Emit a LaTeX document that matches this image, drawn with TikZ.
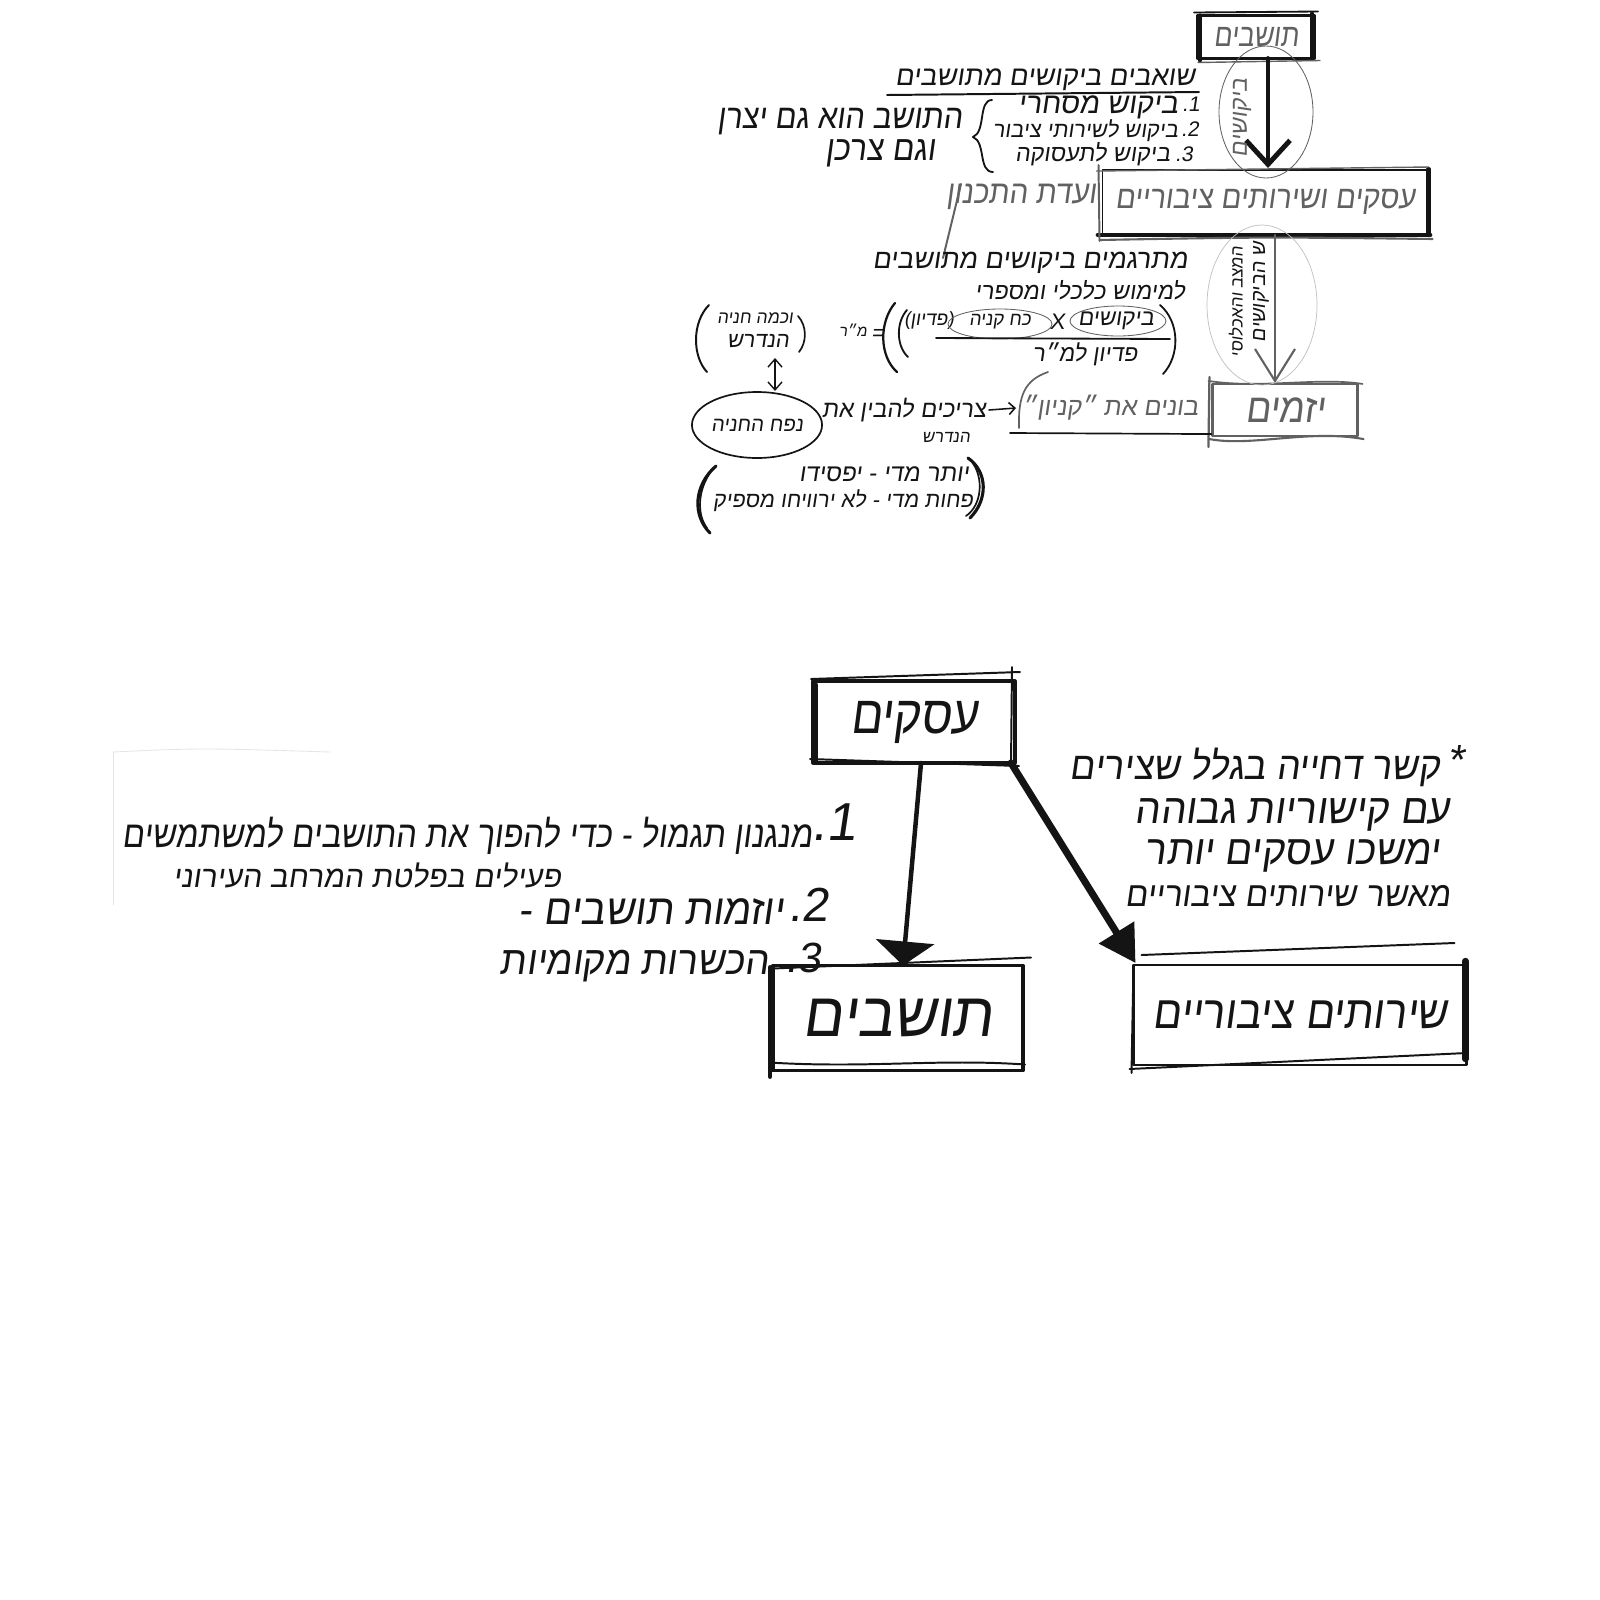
\documentclass[tikz,border=0pt]{standalone}
\usepackage{fontspec}
\usepackage{graphicx}
\usetikzlibrary{arrows.meta,shapes.geometric,calc}
\TeXXeTstate=1
\newfontfamily\heb[Script=Hebrew,FakeSlant=0.15]{Liberation Sans}
\newfontfamily\lat[FakeSlant=0.15]{Liberation Sans}
\newdimen\pxu \pxu=0.025cm
\newcommand{\hw}[3][1]{\resizebox{#2\pxu}{!}{\scalebox{1}[#1]{\heb #3}}}
\definecolor{pen}{gray}{0.08}
\definecolor{pg}{gray}{0.38}
\begin{document}
\begin{tikzpicture}[x=0.025cm,y=-0.025cm,
  hb/.style={inner sep=0pt,outer sep=0pt},
  boxs/.style={draw=pen,rectangle,inner sep=0pt,outer sep=0pt},
  line cap=round,line join=round]
\fill[white] (0,0) rectangle (1600,1600);
\useasboundingbox (0,0) rectangle (1600,1600);

% ---------------- top section ----------------
\node[boxs,line width=2.2pt,minimum width=116\pxu,minimum height=43\pxu,text=pg] (tA) at (1256,37) {\hw[1.2]{85}{\beginR תושבים\endR}};
\draw[pen,line width=1.3pt] ($(tA.north west)+(-4,-3)$) -- ($(tA.north east)+(4,-4)$);
\draw[pen,line width=3pt] ($(tA.north west)+(2,0)$) -- ($(tA.south west)+(2,2)$);
\draw[pen,line width=3pt] ($(tA.north east)+(-2,-2)$) -- ($(tA.south east)+(-2,0)$);
\draw[pg,line width=1pt] ($(tA.south west)+(0,4)$) -- ($(tA.south east)+(6,2)$);

\node[draw=pen,line width=1.4pt,inner sep=0pt,minimum width=325\pxu,minimum height=64\pxu,text=pg] (tB) at (1265,202) {\hw[1.1]{300}{\beginR עסקים ושירותים ציבוריים\endR}};
\draw[pen,line width=2.6pt] ($(tB.south west)+(-4,0)$) -- ($(tB.south east)+(2,0)$);
\draw[pen,line width=3pt] (tB.north east) -- (tB.south east);
\draw[pg,line width=1.4pt] ($(tB.north west)+(-3,-4)$) -- ($(tB.south west)+(-2,6)$);
\draw[pg,line width=1.5pt] ($(tB.south west)+(-2,5)$) .. controls ($(tB.south)+(0,2)$) .. ($(tB.south east)+(4,4)$);
\draw[pg,line width=1pt] ($(tB.north west)+(-5,2)$) -- ($(tB.north east)+(0,-2)$);

\node[draw=pg,line width=1.5pt,inner sep=0pt,minimum width=145\pxu,minimum height=52\pxu,text=pg] (tC) at (1285,410) {\hw[1.1]{80}{\beginR יזמים\endR}};
\draw[pg,line width=1.5pt] ($(tC.south west)+(-2,2)$) .. controls ($(tC.south west)+(40,10)$) and ($(tC.south east)+(-50,-8)$) .. ($(tC.south east)+(5,2)$);
\draw[pg,line width=1.2pt] ($(tC.north west)+(-3,-2)$) .. controls ($(tC.north west)+(50,6)$) and ($(tC.north east)+(-40,-6)$) .. ($(tC.north east)+(4,1)$);
\draw[pg,line width=1.6pt] ($(tC.north west)+(-2,-6)$) -- ($(tC.south west)+(-3,10)$);

% arrows
\draw[pen,line width=3.5pt,-{Straight Barb[length=0.6cm,width=1.1cm]}] ($(tA.south)+(12,0)$) -- ($(tB.north)+(3,-1)$);
\draw[pg,line width=1.5pt,-{Straight Barb[length=0.8cm,width=1cm]}] ($(tB.south)+(10,0)$) -- ($(tC.north)+(-10,0)$);

\draw[pg,line width=0.6pt] (1266,112) ellipse [x radius=47, y radius=66];
\node[hb,rotate=90,text=pg] (r1) at (1242,118) {\hw{78}{\beginR ביקושים\endR}};

\draw[black!25,line width=0.5pt] (1262,305) ellipse [x radius=55, y radius=80];
\node[hb,rotate=90,text=pen] (r2) at (1261,292) {\hw{100}{\beginR ש הביקושים\endR}};
\node[hb,rotate=90,text=pen] (r3) at (1236,302) {\hw{110}{\beginR המצב והאכלוסי\endR}};

% heading and list
\node[hb,text=pen] (hdr) at (1045,80) {\hw{300}{\beginR שואבים ביקושים מתושבים\endR}};
\draw[pen,line width=1.4pt] (887,95) -- (1199,92);
\node[hb,anchor=east,text=pen] (l1) at (1178,107) {\hw{160}{\beginR ביקוש מסחרי\endR}};
\node[hb,anchor=east,text=pen] (l2) at (1178,131) {\hw{185}{\beginR ביקוש לשירותי ציבור\endR}};
\node[hb,anchor=east,text=pen] (l3) at (1170,154) {\hw{155}{\beginR ביקוש לתעסוקה\endR}};
\node[hb,text=pen] (n1) at (1191,104) {\fontsize{15}{15}\selectfont\lat .1};
\node[hb,text=pen] (n2) at (1190,129) {\fontsize{15}{15}\selectfont\lat .2};
\node[hb,text=pen] (n3) at (1184,154) {\fontsize{15}{15}\selectfont\lat .3};
\draw[pen,line width=1.3pt] (992,100) .. controls (978,100) and (986,132) .. (973,137) .. controls (986,142) and (978,172) .. (993,172);
\node[hb,anchor=east,text=pen] (c1) at (962,122) {\hw[1.1]{245}{\beginR התושב הוא גם יצרן\endR}};
\node[hb,anchor=east,text=pen] (c2) at (935,153) {\hw[1.1]{110}{\beginR וגם צרכן\endR}};

\node[hb,anchor=east,text=pg] (vd) at (1096,197) {\hw[1.1]{150}{\beginR ועדת התכנון\endR}};
\coordinate (g1) at (961,184);
\coordinate (g2) at (943,258);
\draw[pg,line width=1.4pt] (g1) -- (g2);

\node[hb,text=pen] (tg1) at (1030,263) {\hw{315}{\beginR מתרגמים ביקושים מתושבים\endR}};
\node[hb,anchor=east,text=pen] (tg2) at (1185,290) {\hw{210}{\beginR למימוש כלכלי ומספרי\endR}};

% formula
\draw[pen,line width=1.4pt] (709,305) .. controls (692,322) and (692,356) .. (707,372);
\node[hb,text=pen] (hn1) at (755,318) {\hw{76}{\beginR וכמה חניה\endR}};
\node[hb,text=pen] (hn2) at (758,341) {\hw{62}{\beginR הנדרש\endR}};
\draw[pen,line width=1.2pt] (798,316) .. controls (807,326) and (807,342) .. (799,352);
\node[hb,text=pen] (mr) at (853,330) {\hw{28}{\beginR מ״ר\endR}};
\node[hb,text=pen] (eq) at (878,335) {\fontsize{16}{16}\selectfont\lat =};
\draw[pen,line width=1.6pt] (895,303) .. controls (879,322) and (879,356) .. (897,372);
\draw[pen,line width=1.3pt] (907,310) .. controls (896,322) and (896,346) .. (908,357);
\node[hb,text=pen] (pd) at (929,321) {\resizebox{50\pxu}{!}{{\lat(}{\heb\beginR פדיון\endR}{\lat)}}};
\draw[pg,line width=0.6pt] (1000,324) ellipse [x radius=52, y radius=15];
\node[hb,text=pen] (kk) at (1000,322) {\hw{62}{\beginR כח קניה\endR}};
\node[hb,text=pen] (xx) at (1057,322) {\fontsize{16}{16}\selectfont\lat X};
\draw[pg,line width=0.6pt] (1118,321) ellipse [x radius=48, y radius=15];
\node[hb,text=pen] (bk) at (1116,321) {\hw{76}{\beginR ביקושים\endR}};
\draw[pen,line width=1.3pt] (1160,305) .. controls (1180,322) and (1180,356) .. (1163,374);
\draw[pen,line width=1.3pt] (936,338) -- (1170,339);
\node[hb,text=pen] (dn) at (1085,354) {\hw{105}{\beginR פדיון למ״ר\endR}};

% parking row
\coordinate (da) at (775,358);
\coordinate (db) at (775,391);
\draw[pen,line width=1pt,{Straight Barb[length=0.2cm,width=0.35cm]}-{Straight Barb[length=0.2cm,width=0.35cm]}] (da) -- (db);
\node[ellipse,draw=pen,line width=1.2pt,minimum width=122\pxu,minimum height=66\pxu,inner sep=0pt,text=pen] (nf) at (757,425) {\hw{92}{\beginR נפח החניה\endR}};
\node[hb,anchor=east,text=pen] (ts) at (986,410) {\hw{164}{\beginR צריכים להבין את\endR}};
\node[hb,text=pen] (ts2) at (946,437) {\hw{48}{\beginR הנדרש\endR}};
\node[hb,text=pg] (ky) at (1110,408) {\hw{176}{\beginR בונים את ״קניון״\endR}};
\draw[pen,line width=1.1pt,-{Straight Barb[length=0.15cm,width=0.3cm]}] ($(ts.east)+(3,0)$) -- ($(ky.west)+(-6,0)$);
\draw[pen,line width=1.2pt] (1010,433) -- ($(tC.south west)+(0,-3)$);
\draw[pg,line width=1.2pt] (1048,372) .. controls (1025,380) and (1018,395) .. (1019,428);

\node[hb,text=pen] (y1) at (884,474) {\hw{170}{\beginR יותר מדי - יפסידו\endR}};
\node[hb,text=pen] (y2) at (843,501) {\hw{260}{\beginR פחות מדי - לא ירוויחו מספיק\endR}};
\draw[pen,line width=2.2pt] (716,466) .. controls (694,485) and (692,515) .. (710,533);
\draw[pen,line width=1.2pt] (712,470) .. controls (697,490) and (697,515) .. (707,528);
\draw[pen,line width=2.2pt] (968,458) .. controls (988,472) and (988,500) .. (970,518);
\draw[pen,line width=1.2pt] (972,462) .. controls (984,478) and (982,505) .. (966,516);

% ---------------- bottom section ----------------
\node[boxs,line width=2.2pt,minimum width=202\pxu,minimum height=82\pxu,text=pen] (bA) at (914,722) {\hw[1.15]{128}{\beginR עסקים\endR}};
\draw[pen,line width=4.5pt] ($(bA.north west)+(2,4)$) -- ($(bA.south west)+(2,-2)$);
\draw[pen,line width=1.4pt] ($(bA.north west)+(-2,-2)$) -- ($(bA.north east)+(5,-9)$);
\draw[pen,line width=1.4pt] ($(bA.south west)+(-3,-4)$) -- ($(bA.south east)+(4,3)$);
\draw[pen,line width=1.4pt] ($(bA.north east)+(-3,-14)$) -- ($(bA.south east)+(-4,2)$);

\node[boxs,line width=2.2pt,minimum width=250\pxu,minimum height=105\pxu,text=pen] (bB) at (898,1018) {\hw[1.05]{190}{\beginR תושבים\endR}};
\draw[pen,line width=1.4pt] ($(bB.north west)+(0,3)$) -- ($(bB.north east)+(8,-8)$);
\draw[pen,line width=3.5pt] ($(bB.north west)+(-3,2)$) -- ($(bB.south west)+(-3,6)$);
\draw[pen,line width=1.4pt] ($(bB.south west)+(-4,-8)$) .. controls ($(bB.south)+(-30,-2)$) and ($(bB.south)+(40,-12)$) .. ($(bB.south east)+(2,-6)$);

\node[boxs,line width=2pt,minimum width=333\pxu,minimum height=100\pxu,text=pen] (bC) at (1300,1015) {\hw[1.1]{295}{\beginR שירותים ציבוריים\endR}};
\draw[pen,line width=4.5pt] ($(bC.north east)+(-1,-4)$) -- ($(bC.south east)+(-1,-6)$);
\draw[pen,line width=1.4pt] ($(bC.north west)+(8,-10)$) -- ($(bC.north east)+(-12,-22)$);
\draw[pen,line width=1.4pt] ($(bC.south west)+(-4,4)$) -- ($(bC.south east)+(0,-12)$);
\draw[pen,line width=1.4pt] ($(bC.south west)+(-2,8)$) -- (bC.north west);

\draw[pen,line width=3.2pt,-{Triangle[length=0.6cm,width=1.45cm]}] ($(bA.south)+(7,0)$) -- ($(bB.north)+(5,0)$);
\draw[pen,line width=5pt,-{Triangle[length=0.9cm,width=1cm]}] ($(bA.south east)+(-4,0)$) -- ($(bC.north west)+(2,-2)$);

% left texts
\draw[black!10,line width=0.6pt] (113,752) -- (113,905);
\draw[black!10,line width=0.6pt] (113,752) .. controls (200,748) .. (330,752);
\node[hb,text=pen] (m1) at (834,822) {\fontsize{38}{38}\selectfont\lat .1};
\node[hb,anchor=east,text=pen] (L1) at (812,836) {\hw[1.15]{690}{\beginR מנגנון תגמול - כדי להפוך את התושבים למשתמשים\endR}};
\node[hb,anchor=east,text=pen] (L2) at (561,876) {\hw{388}{\beginR פעילים בפלטת המרחב העירוני\endR}};
\node[hb,text=pen] (m2) at (808,905) {\fontsize{34}{34}\selectfont\lat .2};
\node[hb,anchor=east,text=pen] (L3) at (784,912) {\hw[1.05]{265}{\beginR יוזמות תושבים -\endR}};
\node[hb,text=pen] (m3) at (803,958) {\fontsize{30}{30}\selectfont\lat .3};
\node[hb,anchor=east,text=pen] (L4) at (768,966) {\hw[1.05]{268}{\beginR הכשרות מקומיות\endR}};

% right texts
\node[hb,text=pen] (ast) at (1456,760) {\fontsize{30}{30}\selectfont\lat *};
\node[hb,anchor=east,text=pen] (R1) at (1440,767) {\hw[1.05]{370}{\beginR קשר דחייה בגלל שצירים\endR}};
\node[hb,anchor=east,text=pen] (R2) at (1450,815) {\hw[1.05]{315}{\beginR עם קישוריות גבוהה\endR}};
\node[hb,anchor=east,text=pen] (R3) at (1440,856) {\hw[1.05]{295}{\beginR ימשכו עסקים יותר\endR}};
\node[hb,anchor=east,text=pen] (R4) at (1450,896) {\hw[1.05]{325}{\beginR מאשר שירותים ציבוריים\endR}};
\end{tikzpicture}
\end{document}
